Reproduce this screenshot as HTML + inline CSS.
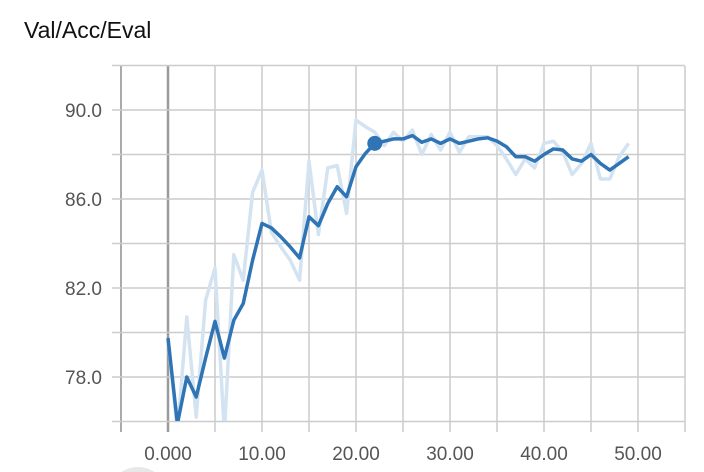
<!DOCTYPE html>
<html><head><meta charset="utf-8"><style>
html,body{margin:0;background:#fff;width:704px;height:472px;overflow:hidden;font-family:"Liberation Sans",sans-serif}
svg{display:block}
</style></head><body>
<svg width="704" height="472" xmlns="http://www.w3.org/2000/svg">
<text x="24" y="38" font-size="23" fill="#111">Val/Acc/Eval</text>
<g id="grid"></g>
<g id="axes"></g>
<g id="series"></g>
<circle cx="138" cy="497" r="30" fill="#e8e8e8"/>
</svg>
<script>
const steps=[...Array(50).keys()];
const smoothed=[79.75,75.9,78.0,77.1,78.85,80.5,78.85,80.55,81.3,83.25,84.9,84.7,84.3,83.85,83.35,85.2,84.8,85.8,86.55,86.1,87.45,88.05,88.5,88.6,88.7,88.7,88.85,88.55,88.7,88.5,88.7,88.5,88.6,88.7,88.75,88.6,88.35,87.9,87.9,87.7,88.0,88.25,88.2,87.8,87.7,88.0,87.6,87.3,87.6,87.9];
const raw=[79.75,75.5,80.7,76.2,81.45,82.9,75.5,83.5,82.35,86.3,87.3,84.5,83.85,83.25,82.35,87.7,84.4,87.4,87.5,85.35,89.55,89.25,89.0,88.4,89.0,88.6,89.1,88.0,88.9,88.2,89.0,88.1,88.8,88.8,88.8,88.4,87.8,87.1,87.8,87.4,88.5,88.6,88.1,87.1,87.6,88.5,86.9,86.9,87.9,88.5];
const xTicks=[0,10,20,30,40,50];
const xTickLabels=["0.000","10.00","20.00","30.00","40.00","50.00"];
const yTicks=[78,82,86,90];
const yTickLabels=["78.0","82.0","86.0","90.0"];
const X=v=>168+9.4*v, Y=v=>110+(90-v)*22.25;
const NS="http://www.w3.org/2000/svg";
function mk(t,a,p){const e=document.createElementNS(NS,t);for(const k in a)e.setAttribute(k,a[k]);p.appendChild(e);return e;}
const grid=document.getElementById('grid'),axes=document.getElementById('axes'),ser=document.getElementById('series');
for(let v=-5;v<=55;v+=5){const x=X(v);
 const l=mk('line',{x1:x,x2:x,y1:66,y2:432,stroke:v===0?'#9a9a9a':(v===-5?'#aaa':'#ccc'),'stroke-width':v===0?2.5:(v===-5?2:1.5)},grid);
 
 }
for(let v=76;v<=92;v+=2){const y=Y(v);
 const l=mk('line',{x1:112,x2:685,y1:y,y2:y,stroke:'#ccc','stroke-width':1.5},grid);
 
 }
xTicks.forEach((v,i)=>{const t=mk('text',{x:X(v),y:460,'font-size':19,fill:'#555','text-anchor':'middle'},axes);t.textContent=xTickLabels[i];
 
 });
yTicks.forEach((v,i)=>{const t=mk('text',{x:102,y:Y(v)+7,'font-size':19,fill:'#555','text-anchor':'end'},axes);t.textContent=yTickLabels[i];
 
 });
const clip=mk('clipPath',{id:'cp'},ser);mk('rect',{x:112,y:66,width:573,height:355},clip);
const pts=a=>a.map((v,i)=>X(steps[i])+','+Y(v)).join(' ');
const r=mk('polyline',{points:pts(raw),fill:'none',stroke:'#d4e3f1','stroke-width':3.5,'clip-path':'url(#cp)','stroke-linejoin':'round'},ser);


const s=mk('polyline',{points:pts(smoothed),fill:'none',stroke:'#2f74b5','stroke-width':3.5,'clip-path':'url(#cp)','stroke-linejoin':'round'},ser);


const d=mk('circle',{cx:X(22),cy:Y(smoothed[22]),r:7.5,fill:'#2f74b5'},ser);


</script>
</body></html>
